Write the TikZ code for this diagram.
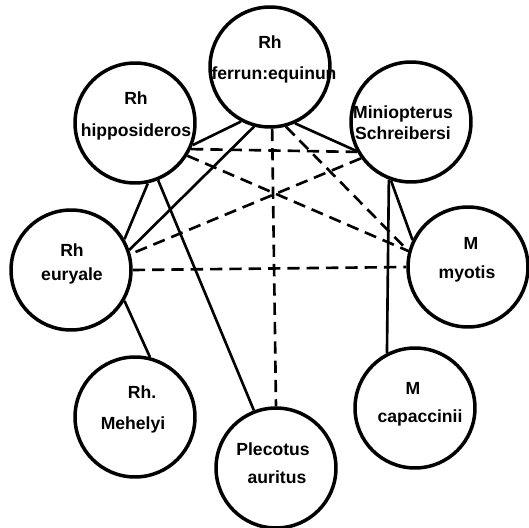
\documentclass[tikz,border=0pt]{standalone}
\usepackage{fontspec}
\setmainfont{Liberation Sans}
\usepackage{tikz}
\tikzset{
	bat/.style={draw, circle, line width=2pt, minimum size=2.4cm, inner sep=0pt},
	lbl/.style={anchor=base, inner sep=0pt, font=\fontsize{10}{12}\selectfont\bfseries},
	link/.style={line width=1.5pt},
	dlink/.style={line width=1.5pt, dash pattern=on 7pt off 4pt}
}
\begin{document}
\begin{tikzpicture}[x=0.02cm, y=-0.02cm]
			\useasboundingbox (0,0) rectangle (529,528);
			\node[bat] (ferrum) at (270,67) {};
			\node[bat] (hipp) at (135,123) {};
			\node[bat] (mini) at (411,122) {};
			\node[bat] (eury) at (71,270) {};
			\node[bat] (myot) at (468,267) {};
			\node[bat] (mehe) at (135,417) {};
			\node[bat] (plec) at (276,468) {};
			\node[bat] (capa) at (415,408) {};
			\node[lbl] (ferrum-a) at (270,48) {Rh};
			\node[lbl] (ferrum-b) at (274,79) {ferrun:equinun};
			\node[lbl] (hipp-a) at (136,104) {Rh};
			\node[lbl] (hipp-b) at (136,136) {hipposideros};
			\node[lbl] (mini-a) at (403,118) {Miniopterus};
			\node[lbl] (mini-b) at (403,139) {Schreibersi};
			\node[lbl] (eury-a) at (72,256) {Rh};
			\node[lbl] (eury-b) at (72,280) {euryale};
			\node[lbl] (myot-a) at (471,249) {M};
			\node[lbl] (myot-b) at (467,278) {myotis};
			\node[lbl] (mehe-a) at (142,398) {Rh.};
			\node[lbl] (mehe-b) at (133,429) {Mehelyi};
			\node[lbl] (plec-a) at (273,455) {Plecotus};
			\node[lbl] (plec-b) at (277,483) {auritus};
			\node[lbl] (capa-a) at (413,394) {M};
			\node[lbl] (capa-b) at (420,422) {capaccinii};
			\draw[link] (ferrum.242) -- (hipp.339);
			\draw[link] (ferrum.255) -- (eury.19);
			\draw[link] (ferrum.294) -- (mini.208);
			\draw[link] (hipp.282) -- (eury.30);
			\draw[link] (hipp.292) -- (plec.111);
			\draw[link] (mini.251) -- (myot.154);
			\draw[link] (mini.249) -- (capa.117);
			\draw[link] (eury.330) -- (mehe.76);
			\draw[dlink] (hipp.335) -- (mini.209);
			\draw[dlink] (hipp.328) -- (myot.165);
			\draw[dlink] (ferrum.285) -- (myot.165);
			\draw[dlink] (ferrum.272) -- (plec.90);
			\draw[dlink] (mini.216) -- (eury.15);
			\draw[dlink] (eury.0) -- (myot.180);
		\end{tikzpicture}
\end{document}
